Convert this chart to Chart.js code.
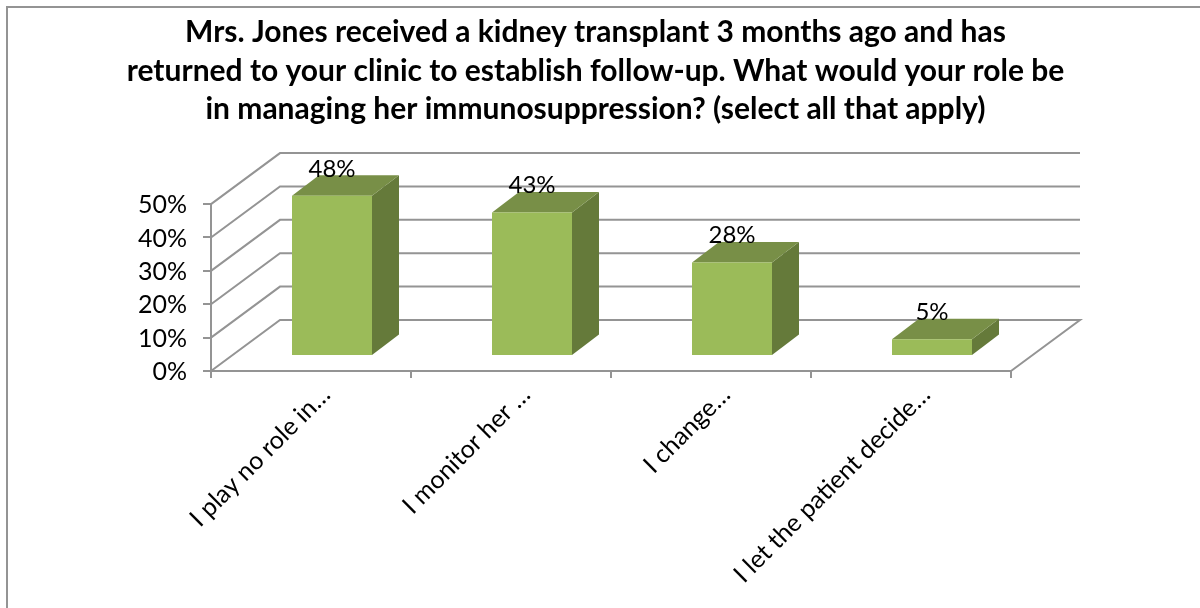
<!DOCTYPE html>
<html>
<head>
<meta charset="utf-8">
<title>Kidney transplant follow-up</title>
<script src="https://cdn.jsdelivr.net/npm/chart.js@4"></script>
<style>
    html, body { margin: 0; padding: 0; background: #fff; overflow: hidden; }
    canvas { display: block; }
</style>
</head>
<body>
<canvas id="roleChart" width="1200" height="608"></canvas>
<script>
const categories = ['I play no role in…', 'I monitor her …', 'I change…', 'I let the patient decide…'];
const values = [48, 43, 28, 5];
const titleLines = [
    'Mrs. Jones received a kidney transplant 3 months ago and has',
    'returned to your clinic to establish follow-up. What would your role be',
    'in managing her immunosuppression? (select all that apply)'
];
const yMax = 50;
const yStep = 10;

const gridColor = '#949494';
const fontName = 'Lato, Carlito, sans-serif';

// depth of the box: floor/wall offset, bar position inside it, and bar depth
const wall = { dx: 69, dy: -51 };
const barShift = { dx: 21, dy: -15 };
const barDepth = { dx: 27, dy: -20.5 };

const box3d = {
    id: 'box3d',
    beforeDatasetsDraw(chart) {
        const ctx = chart.ctx;
        const { x, y } = chart.scales;
        const left = x.left, right = x.right;

        // side wall and back wall lines
        ctx.save();
        ctx.strokeStyle = gridColor;
        ctx.lineWidth = 2;
        for (let v = 0; v <= yMax; v += yStep) {
            const py = y.getPixelForValue(v);
            ctx.beginPath();
            ctx.moveTo(left, py);
            ctx.lineTo(left + wall.dx, py + wall.dy);
            ctx.lineTo(right + wall.dx, py + wall.dy);
            if (v === 0) ctx.lineTo(right, py);
            ctx.stroke();
        }
        ctx.restore();

        // bars are moved into the middle of the box depth
        ctx.save();
        ctx.translate(barShift.dx, barShift.dy);
        chart.getDatasetMeta(0).data.forEach(bar => {
            const l = bar.x - bar.width / 2, r = bar.x + bar.width / 2;
            ctx.fillStyle = '#657a3a';
            ctx.beginPath();
            ctx.moveTo(r, bar.y);
            ctx.lineTo(r + barDepth.dx, bar.y + barDepth.dy);
            ctx.lineTo(r + barDepth.dx, bar.base + barDepth.dy);
            ctx.lineTo(r, bar.base);
            ctx.closePath();
            ctx.fill();
            ctx.fillStyle = '#788f47';
            ctx.beginPath();
            ctx.moveTo(l, bar.y);
            ctx.lineTo(l + barDepth.dx, bar.y + barDepth.dy);
            ctx.lineTo(r + barDepth.dx, bar.y + barDepth.dy);
            ctx.lineTo(r, bar.y);
            ctx.closePath();
            ctx.fill();
        });
    },
    afterDatasetsDraw(chart) {
        const ctx = chart.ctx;
        ctx.restore();

        // value labels
        ctx.save();
        ctx.fillStyle = '#000';
        ctx.font = '24px ' + fontName;
        ctx.textAlign = 'center';
        ctx.textBaseline = 'middle';
        chart.getDatasetMeta(0).data.forEach((bar, i) => {
            ctx.fillText(values[i] + '%', bar.x + barShift.dx, bar.y + barShift.dy - 27);
        });
        ctx.restore();
    },
    beforeDraw(chart) {
        // outer frame, only top and left are inside the picture
        const ctx = chart.ctx;
        ctx.save();
        ctx.strokeStyle = gridColor;
        ctx.lineWidth = 2;
        ctx.beginPath();
        ctx.moveTo(7, 608);
        ctx.lineTo(7, 7);
        ctx.lineTo(1200, 7);
        ctx.stroke();
        ctx.restore();
    }
};

new Chart(document.getElementById('roleChart').getContext('2d'), {
    type: 'bar',
    data: {
        labels: categories,
        datasets: [{
            data: values,
            backgroundColor: '#9bbb59',
            borderWidth: 0,
            categoryPercentage: 1,
            barPercentage: 0.4,
            clip: false
        }]
    },
    plugins: [box3d],
    options: {
        responsive: false,
        animation: false,
        layout: { padding: { left: 0, right: 9, top: 0, bottom: 0 } },
        plugins: {
            legend: { display: false },
            tooltip: { enabled: false },
            title: {
                display: true,
                text: titleLines,
                color: '#000',
                font: { family: fontName, size: 30, weight: 'bold', lineHeight: 1.29 },
                padding: { top: 13, bottom: 75 }
            }
        },
        scales: {
            x: {
                grid: { drawOnChartArea: false, color: gridColor, lineWidth: 2, tickLength: 7 },
                border: { color: gridColor, width: 2 },
                ticks: {
                    color: '#000',
                    font: { family: fontName, size: 25 },
                    minRotation: 45,
                    maxRotation: 45,
                    autoSkip: false,
                    labelOffset: 15,
                    padding: 2
                },
                afterFit(scale) { scale.height = 237; }
            },
            y: {
                min: 0,
                max: yMax,
                grid: { drawOnChartArea: false, color: gridColor, lineWidth: 2, tickLength: 8 },
                border: { color: gridColor, width: 2 },
                ticks: {
                    stepSize: yStep,
                    color: '#000',
                    font: { family: fontName, size: 25 },
                    padding: 16,
                    labelOffset: 1,
                    callback: v => v + '%'
                },
                afterFit(scale) { scale.width = 211; }
            },
            // empty axis that only keeps the plot away from the right edge
            spacer: {
                position: 'right',
                ticks: { display: false },
                grid: { display: false },
                border: { display: false },
                afterFit(scale) { scale.width = 180; }
            }
        }
    }
});
</script>
</body>
</html>
